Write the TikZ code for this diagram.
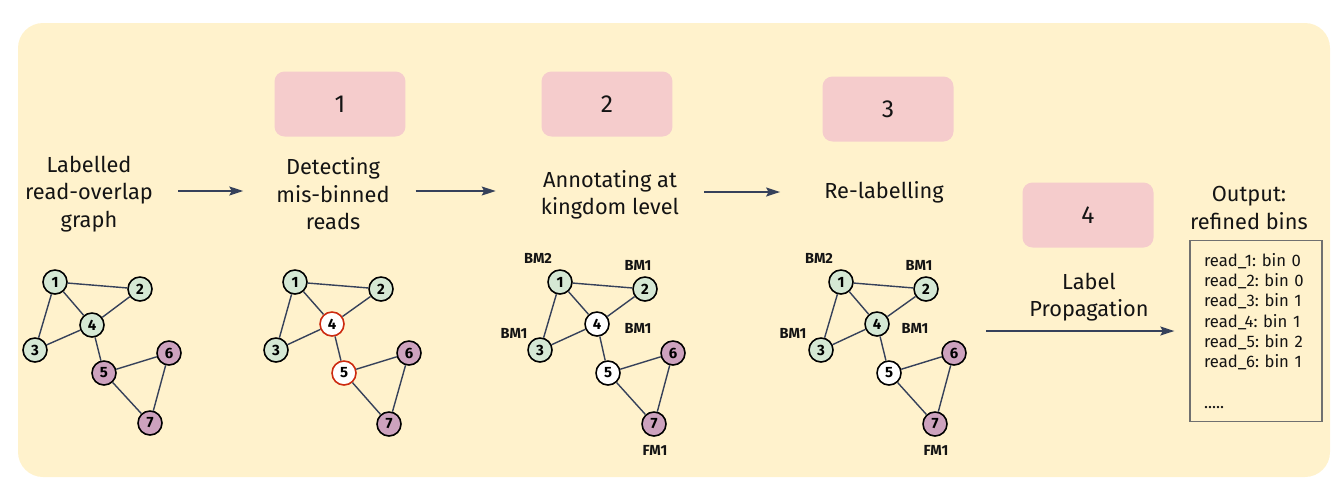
\documentclass[tikz,border=0pt]{standalone}
\usepackage{fontspec}
\setmainfont{Fira Sans}
\usetikzlibrary{arrows.meta,positioning}
\frenchspacing

\definecolor{bgyellow}{HTML}{FFF2CC}
\definecolor{stepink}{HTML}{F5CCCC}
\definecolor{bactgreen}{HTML}{D5E8D4}
\definecolor{fungpurple}{HTML}{CDA2BE}
\definecolor{flagred}{HTML}{CC2A10}
\definecolor{edgenavy}{HTML}{36415A}
\definecolor{boxgray}{HTML}{707070}
\definecolor{textdark}{HTML}{141414}

\begin{document}
\begin{tikzpicture}[x=0.02cm, y=-0.02cm,
    read/.style={circle, draw=black, line width=0.9pt, minimum size=0.48cm, inner sep=0pt, font=\fontsize{8.5}{9}\selectfont\bfseries},
    bact/.style={read, fill=bactgreen},
    fung/.style={read, fill=fungpurple},
    unlab/.style={read, fill=white},
    flagged/.style={read, fill=white, draw=flagred},
    edge/.style={draw=edgenavy, line width=0.8pt},
    flow/.style={-{Stealth[length=2.8mm, width=1.8mm, inset=0.5mm]}, draw=edgenavy, line width=0.8pt},
    stepbox/.style={rounded corners=0.2cm, fill=stepink, minimum width=2.62cm, minimum height=1.3cm, font=\fontsize{14}{16}\selectfont, text=textdark},
    caption/.style={align=center, font=\fontsize{12.4}{15.6}\selectfont, text=textdark},
    kingdom/.style={font=\fontsize{8.3}{9}\selectfont\bfseries, text=textdark}
]
    \useasboundingbox (0,0) rectangle (1338,491);

    % Background panel
    \fill[bgyellow, rounded corners=0.5cm] (18,23) rectangle (1330,477);

    % Step number boxes
    \node[stepbox] (step1) at (340,104) {1};
    \node[stepbox] (step2) at (607,104) {2};
    \node[stepbox] (step3) at (888,109) {3};
    \node[stepbox] (step4) at (1088,215) {4};

    % Stage captions
    \node[caption] (lab) at (89,194) {Labelled\\read-overlap\\graph};
    \node[caption] (det) at (333,194) {Detecting\\mis-binned\\reads};
    \node[caption] (ann) at (610,195) {Annotating at\\kingdom level};
    \node[caption] (relab) at (884,192) {Re-labelling};
    \node[caption] (lprop) at (1089,297) {Label\\Propagation};
    \node[caption] (outt) at (1249,208) {Output:\\refined bins};

    % Arrows between stages
    \draw[flow, shorten <=0.38cm, shorten >=0.54cm] (lab.east) ++(0,-3) coordinate (labout) -- (labout -| det.west);
    \draw[flow, shorten <=0.4cm, shorten >=0.78cm] (det.east) ++(0,-3) coordinate (detout) -- (detout -| ann.west);
    \draw[flow, shorten <=0.38cm, shorten >=0.76cm] (ann.east |- relab.east) -- (relab.west);

    % Output box
    \node[draw=boxgray, line width=0.8pt, minimum width=2.64cm, minimum height=3.62cm, inner xsep=0.28cm, text width=2.08cm, align=left, font=\fontsize{9.5}{11.6}\selectfont, text=textdark] (outbox) at (1256,331)
        {read\_1: bin 0\\read\_2: bin 0\\read\_3: bin 1\\read\_4: bin 1\\read\_5: bin 2\\read\_6: bin 1\\[11.6pt].....};
    \coordinate (lpstart) at (986,331);
    \draw[flow, shorten >=0.3cm] (lpstart) -- (outbox.west);

    % Graph 1: labelled read-overlap graph
    \node[bact] (a1) at (55,282) {1};
    \node[bact] (a2) at (140,289) {2};
    \node[bact] (a3) at (35,350) {3};
    \node[bact] (a4) at (92,325) {4};
    \node[fung] (a5) at (104,373) {5};
    \node[fung] (a6) at (169,353) {6};
    \node[fung] (a7) at (150,423) {7};
    \draw[edge] (a1) -- (a2) (a1) -- (a3) (a1) -- (a4) (a2) -- (a4) (a3) -- (a4)
        (a4) -- (a5) (a5) -- (a6) (a5) -- (a7) (a6) -- (a7);

    % Graph 2: mis-binned reads flagged
    \begin{scope}[shift={(240,0)}]
    \node[bact] (b1) at (55,282) {1};
    \node[bact] (b2) at (141,289) {2};
    \node[bact] (b3) at (36,350) {3};
    \node[flagged] (b4) at (92,324) {4};
    \node[flagged] (b5) at (104,373) {5};
    \node[fung] (b6) at (169,353) {6};
    \node[fung] (b7) at (149,424) {7};
    \draw[edge] (b1) -- (b2) (b1) -- (b3) (b1) -- (b4) (b2) -- (b4) (b3) -- (b4)
        (b4) -- (b5) (b5) -- (b6) (b5) -- (b7) (b6) -- (b7);
    \end{scope}

    % Graph 3: kingdom level annotation
    \begin{scope}[shift={(505,0)}]
    \node[bact] (c1) at (55,282) {1};
    \node[bact] (c2) at (140,289) {2};
    \node[bact] (c3) at (35,350) {3};
    \node[unlab] (c4) at (92,324) {4};
    \node[unlab] (c5) at (103,373) {5};
    \node[fung] (c6) at (168,353) {6};
    \node[fung] (c7) at (149,424) {7};
    \draw[edge] (c1) -- (c2) (c1) -- (c3) (c1) -- (c4) (c2) -- (c4) (c3) -- (c4)
        (c4) -- (c5) (c5) -- (c6) (c5) -- (c7) (c6) -- (c7);
    \node[kingdom] (c1k) at (33,258) {BM2};
    \node[kingdom] (c2k) at (133,265) {BM1};
    \node[kingdom] (c3k) at (9,333) {BM1};
    \node[kingdom] (c4k) at (133,328) {BM1};
    \node[kingdom] (c7k) at (150,450) {FM1};
    \end{scope}

    % Graph 4: re-labelled graph
    \begin{scope}[shift={(786,0)}]
    \node[bact] (d1) at (55,282) {1};
    \node[bact] (d2) at (140,289) {2};
    \node[bact] (d3) at (35,350) {3};
    \node[bact] (d4) at (91,324) {4};
    \node[unlab] (d5) at (103,373) {5};
    \node[fung] (d6) at (168,353) {6};
    \node[fung] (d7) at (149,424) {7};
    \draw[edge] (d1) -- (d2) (d1) -- (d3) (d1) -- (d4) (d2) -- (d4) (d3) -- (d4)
        (d4) -- (d5) (d5) -- (d6) (d5) -- (d7) (d6) -- (d7);
    \node[kingdom] (d1k) at (33,258) {BM2};
    \node[kingdom] (d2k) at (133,265) {BM1};
    \node[kingdom] (d3k) at (7,333) {BM1};
    \node[kingdom] (d4k) at (129,328) {BM1};
    \node[kingdom] (d7k) at (150,450) {FM1};
    \end{scope}
\end{tikzpicture}
\end{document}
